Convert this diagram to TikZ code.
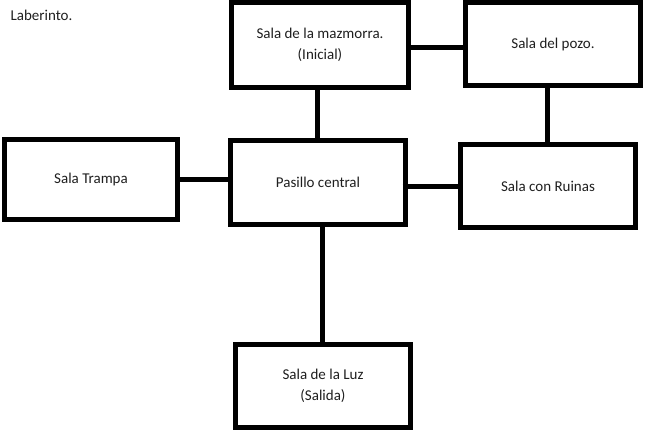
\documentclass[tikz,border=0pt]{standalone}
\usepackage{fontspec}
\setmainfont{Carlito}
\begin{document}
\begin{tikzpicture}[x=1pt,y=-1pt,
  room/.style={draw=black,line width=5pt,fill=white,inner sep=0pt,outer sep=0pt,
    align=center,font=\fontsize{15}{21}\selectfont,text=black!88},
  link/.style={draw=black,line width=5pt}]
\useasboundingbox[fill=white] (0,0) rectangle (650,443);
\node[anchor=west,font=\fontsize{15}{18}\selectfont,text=black!88] (title) at (7,15) {Laberinto.};
\node[room,minimum width=177pt,minimum height=85pt] (maz) at (320,45) {Sala de la mazmorra.\\(Inicial)};
\node[room,minimum width=175pt,minimum height=83pt] (pozo) at (553,44.5) {Sala del pozo.};
\node[room,minimum width=173pt,minimum height=80pt] (trampa) at (91,179.5) {Sala Trampa};
\node[room,minimum width=175pt,minimum height=84pt] (pas) at (318,182.5) {Pasillo central};
\node[room,minimum width=175pt,minimum height=83pt] (ruinas) at (548,186) {Sala con Ruinas};
\node[room,minimum width=175pt,minimum height=83pt] (luz) at (323,386) {Sala de la Luz\\(Salida)};
\draw[link] (maz.east |- 0,48) -- (pozo.west |- 0,48);
\draw[link] (maz.south -| 317,0) -- (pas.north -| 317,0);
\draw[link] (pozo.south -| 547,0) -- (ruinas.north -| 547,0);
\draw[link] (trampa.east |- 0,180) -- (pas.west |- 0,180);
\draw[link] ([xshift=-3pt]pas.east |- 0,187) -- (ruinas.west |- 0,187);
\draw[link] (pas.south -| 322,0) -- (luz.north -| 322,0);
\end{tikzpicture}
\end{document}
